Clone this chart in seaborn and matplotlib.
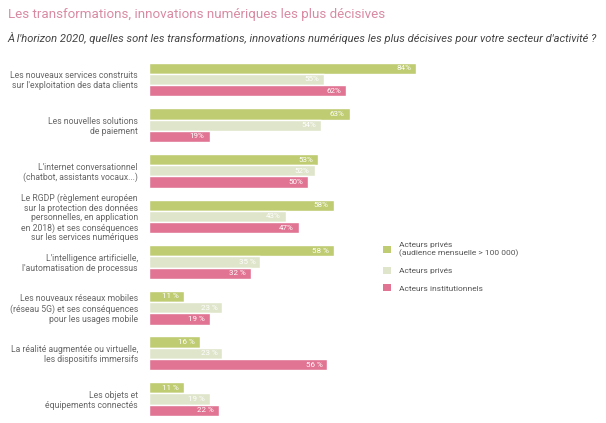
import matplotlib
matplotlib.use("Agg")
import matplotlib.pyplot as plt
import seaborn as sns
import pandas as pd
from matplotlib.patches import Patch

categories = [
    "Les nouveaux services construits\nsur l'exploitation des data clients",
    "Les nouvelles solutions\nde paiement",
    "L'internet conversationnel\n(chatbot, assistants vocaux...)",
    "Le RGDP (règlement européen\nsur la protection des données\npersonnelles, en application\nen 2018) et ses conséquences\nsur les services numériques",
    "L'intelligence artificielle,\nl'automatisation de processus",
    "Les nouveaux réseaux mobiles\n(réseau 5G) et ses conséquences\npour les usages mobile",
    "La réalité augmentée ou virtuelle,\nles dispositifs immersifs",
    "Les objets et\néquipements connectés",
]
series = [
    "Acteurs privés\n(audience mensuelle > 100 000)",
    "Acteurs privés",
    "Acteurs institutionnels",
]
prives_100k = [84, 63, 53, 58, 58, 11, 16, 11]
prives = [55, 54, 52, 43, 35, 23, 23, 19]
institutionnels = [62, 19, 50, 47, 32, 19, 56, 22]
label_sep = ["", "", "", "", " ", " ", " ", " "]

colors = ["#bfcc72", "#dfe5cb", "#e17493"]

rows = []
for s, vals in zip(series, [prives_100k, prives, institutionnels]):
    for c, v in zip(categories, vals):
        rows.append({"cat": c, "serie": s, "val": v})
df = pd.DataFrame(rows)

sns.set_style("white")
plt.rcParams["font.family"] = ["Roboto", "DejaVu Sans"]

fig = plt.figure(figsize=(6.06, 4.23), dpi=100)
ax = fig.add_axes([0.246, 0.003, 0.525, 0.863])

sns.barplot(data=df, y="cat", x="val", hue="serie", palette=colors,
            orient="h", width=0.74, ax=ax, legend=False, saturation=1)

ax.set_xlim(0, 100)
ax.set_ylim(7.5, -0.5)
ax.set_xlabel("")
ax.set_ylabel("")
ax.set_xticks([])
for sp in ax.spines.values():
    sp.set_visible(False)
ax.tick_params(axis="y", length=0, pad=8)
for t in ax.get_yticklabels():
    t.set_fontsize(6.2)
    t.set_color("#666666")
    t.set_ha("right")
    t.set_multialignment("right")
    t.set_linespacing(1.1)

for cont in ax.containers:
    labs = [f"{int(round(b.get_width()))}{label_sep[i]}%" for i, b in enumerate(cont)]
    texts = ax.bar_label(cont, labels=labs, padding=-3.5, color="white", fontsize=5.8)
    for t in texts:
        t.set_ha("right")

handles = [Patch(facecolor=c, edgecolor="none") for c in colors]
fig.legend(handles, series, loc="upper left", bbox_to_anchor=(0.62, 0.445),
           frameon=False, fontsize=6, handlelength=0.9, handleheight=0.9,
           labelspacing=1.2, handletextpad=1.0, labelcolor="#555555")

fig.text(0.013, 0.965, "Les transformations, innovations numériques les plus décisives",
         fontsize=9.6, color="#d98aa3", va="center", ha="left")
fig.text(0.013, 0.91, "À l'horizon 2020, quelles sont les transformations, innovations numériques les plus décisives pour votre secteur d'activité ?",
         fontsize=8.0, color="#444444", style="italic", va="center", ha="left")

fig.savefig("out.png", dpi=100)
